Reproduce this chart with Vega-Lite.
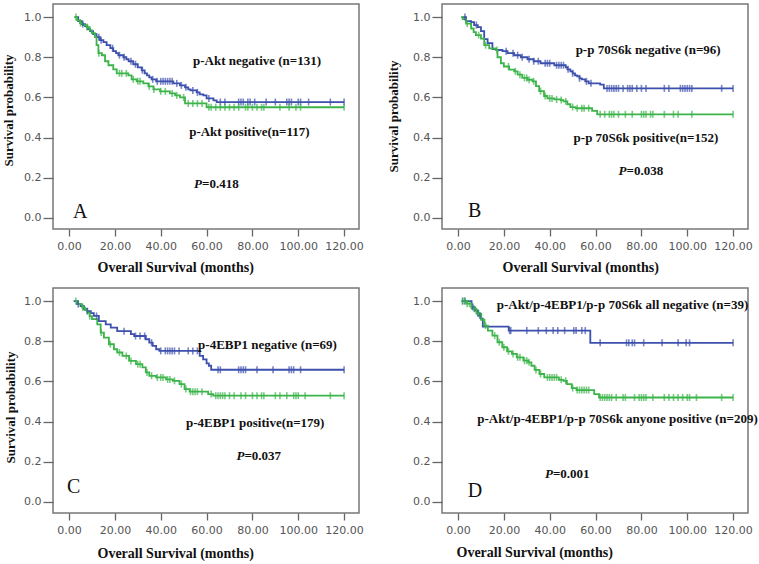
{
"$schema":"https://vega.github.io/schema/vega-lite/v6.json",
"padding":{"left":1,"top":3,"right":0,"bottom":0},
"background":"white",
"bounds":"flush",
"columns":2,
"spacing":{"row":59,"column":83},
"config":{
 "view":{"stroke":"#777","strokeWidth":1.5},
 "axis":{"domain":false,"grid":false,"tickColor":"#666","tickWidth":1.3,"labelColor":"#555","labelFont":"DejaVu Sans","labelFontSize":11,"titleFont":"Liberation Serif","titleFontWeight":"bold","titleFontSize":13,"titleColor":"#111"},
 "axisX":{"tickSize":7,"labelPadding":4,"titleAlign":"left","titleBaseline":"middle","titleFontSize":14},
 "axisY":{"tickSize":10,"labelPadding":2,"titleAlign":"center","titleBaseline":"middle","titleAngle":-90}
},
"datasets":{
"curves":[
{"p":"A","g":"n","t":2.6,"s":1},{"p":"A","g":"n","t":4,"s":0.98},{"p":"A","g":"n","t":5.5,"s":0.965},{"p":"A","g":"n","t":7,"s":0.955},{"p":"A","g":"n","t":8,"s":0.94},{"p":"A","g":"n","t":9.2,"s":0.93},{"p":"A","g":"n","t":10.5,"s":0.915},{"p":"A","g":"n","t":12,"s":0.9},{"p":"A","g":"n","t":13.5,"s":0.885},{"p":"A","g":"n","t":15,"s":0.875},{"p":"A","g":"n","t":16.4,"s":0.86},{"p":"A","g":"n","t":18,"s":0.845},{"p":"A","g":"n","t":19.3,"s":0.83},{"p":"A","g":"n","t":20.5,"s":0.82},{"p":"A","g":"n","t":21.5,"s":0.81},{"p":"A","g":"n","t":23.7,"s":0.8},{"p":"A","g":"n","t":25,"s":0.79},{"p":"A","g":"n","t":26,"s":0.78},{"p":"A","g":"n","t":28,"s":0.765},{"p":"A","g":"n","t":30,"s":0.75},{"p":"A","g":"n","t":31.7,"s":0.735},{"p":"A","g":"n","t":33,"s":0.72},{"p":"A","g":"n","t":34,"s":0.71},{"p":"A","g":"n","t":35,"s":0.7},{"p":"A","g":"n","t":36,"s":0.69},{"p":"A","g":"n","t":38,"s":0.68},{"p":"A","g":"n","t":45.5,"s":0.67},{"p":"A","g":"n","t":48.4,"s":0.66},{"p":"A","g":"n","t":50.6,"s":0.65},{"p":"A","g":"n","t":52,"s":0.64},{"p":"A","g":"n","t":53,"s":0.635},{"p":"A","g":"n","t":55.7,"s":0.625},{"p":"A","g":"n","t":57,"s":0.615},{"p":"A","g":"n","t":58.6,"s":0.61},{"p":"A","g":"n","t":60,"s":0.595},{"p":"A","g":"n","t":63,"s":0.585},{"p":"A","g":"n","t":64.4,"s":0.577},{"p":"A","g":"n","t":120,"s":0.577},
{"p":"A","g":"p","t":2.2,"s":1},{"p":"A","g":"p","t":3.5,"s":0.985},{"p":"A","g":"p","t":4.8,"s":0.97},{"p":"A","g":"p","t":6,"s":0.96},{"p":"A","g":"p","t":7.7,"s":0.95},{"p":"A","g":"p","t":9,"s":0.935},{"p":"A","g":"p","t":9.9,"s":0.92},{"p":"A","g":"p","t":11.3,"s":0.9},{"p":"A","g":"p","t":12,"s":0.86},{"p":"A","g":"p","t":12.8,"s":0.82},{"p":"A","g":"p","t":14.3,"s":0.81},{"p":"A","g":"p","t":15.7,"s":0.78},{"p":"A","g":"p","t":17.2,"s":0.76},{"p":"A","g":"p","t":19.3,"s":0.74},{"p":"A","g":"p","t":20.8,"s":0.72},{"p":"A","g":"p","t":25.9,"s":0.71},{"p":"A","g":"p","t":27.3,"s":0.69},{"p":"A","g":"p","t":29.5,"s":0.68},{"p":"A","g":"p","t":32.4,"s":0.67},{"p":"A","g":"p","t":34.6,"s":0.655},{"p":"A","g":"p","t":36.8,"s":0.64},{"p":"A","g":"p","t":39.7,"s":0.63},{"p":"A","g":"p","t":44,"s":0.62},{"p":"A","g":"p","t":46.3,"s":0.61},{"p":"A","g":"p","t":48.4,"s":0.6},{"p":"A","g":"p","t":50.6,"s":0.57},{"p":"A","g":"p","t":60,"s":0.551},{"p":"A","g":"p","t":120,"s":0.551},
{"p":"B","g":"n","t":2,"s":1},{"p":"B","g":"n","t":3.5,"s":0.98},{"p":"B","g":"n","t":5.7,"s":0.975},{"p":"B","g":"n","t":7,"s":0.96},{"p":"B","g":"n","t":8.6,"s":0.95},{"p":"B","g":"n","t":10,"s":0.93},{"p":"B","g":"n","t":11.4,"s":0.89},{"p":"B","g":"n","t":12.9,"s":0.87},{"p":"B","g":"n","t":15,"s":0.84},{"p":"B","g":"n","t":16.5,"s":0.836},{"p":"B","g":"n","t":19.4,"s":0.83},{"p":"B","g":"n","t":21.6,"s":0.82},{"p":"B","g":"n","t":24.5,"s":0.81},{"p":"B","g":"n","t":27.4,"s":0.8},{"p":"B","g":"n","t":30.3,"s":0.79},{"p":"B","g":"n","t":33,"s":0.78},{"p":"B","g":"n","t":36,"s":0.77},{"p":"B","g":"n","t":42,"s":0.76},{"p":"B","g":"n","t":47,"s":0.75},{"p":"B","g":"n","t":47.7,"s":0.74},{"p":"B","g":"n","t":49,"s":0.73},{"p":"B","g":"n","t":50,"s":0.72},{"p":"B","g":"n","t":51,"s":0.71},{"p":"B","g":"n","t":52,"s":0.705},{"p":"B","g":"n","t":53,"s":0.695},{"p":"B","g":"n","t":54,"s":0.69},{"p":"B","g":"n","t":55.5,"s":0.68},{"p":"B","g":"n","t":57,"s":0.67},{"p":"B","g":"n","t":62,"s":0.664},{"p":"B","g":"n","t":63.6,"s":0.645},{"p":"B","g":"n","t":120,"s":0.645},
{"p":"B","g":"p","t":1.3,"s":1},{"p":"B","g":"p","t":2,"s":0.99},{"p":"B","g":"p","t":3.5,"s":0.967},{"p":"B","g":"p","t":5.7,"s":0.943},{"p":"B","g":"p","t":6.8,"s":0.925},{"p":"B","g":"p","t":7.8,"s":0.91},{"p":"B","g":"p","t":10,"s":0.893},{"p":"B","g":"p","t":11.4,"s":0.86},{"p":"B","g":"p","t":13.6,"s":0.844},{"p":"B","g":"p","t":16.5,"s":0.836},{"p":"B","g":"p","t":17.2,"s":0.8},{"p":"B","g":"p","t":18.7,"s":0.77},{"p":"B","g":"p","t":20,"s":0.754},{"p":"B","g":"p","t":22.3,"s":0.738},{"p":"B","g":"p","t":24.5,"s":0.73},{"p":"B","g":"p","t":26,"s":0.713},{"p":"B","g":"p","t":28,"s":0.697},{"p":"B","g":"p","t":30.3,"s":0.688},{"p":"B","g":"p","t":32.5,"s":0.68},{"p":"B","g":"p","t":34,"s":0.656},{"p":"B","g":"p","t":35.4,"s":0.631},{"p":"B","g":"p","t":37.5,"s":0.607},{"p":"B","g":"p","t":39,"s":0.595},{"p":"B","g":"p","t":42,"s":0.59},{"p":"B","g":"p","t":44.8,"s":0.587},{"p":"B","g":"p","t":46,"s":0.58},{"p":"B","g":"p","t":47.7,"s":0.566},{"p":"B","g":"p","t":49,"s":0.552},{"p":"B","g":"p","t":51.3,"s":0.546},{"p":"B","g":"p","t":58.5,"s":0.533},{"p":"B","g":"p","t":60.7,"s":0.516},{"p":"B","g":"p","t":120,"s":0.516},
{"p":"C","g":"n","t":2,"s":1},{"p":"C","g":"n","t":3.5,"s":0.985},{"p":"C","g":"n","t":5,"s":0.975},{"p":"C","g":"n","t":6.5,"s":0.96},{"p":"C","g":"n","t":7.9,"s":0.95},{"p":"C","g":"n","t":9.5,"s":0.94},{"p":"C","g":"n","t":10.8,"s":0.926},{"p":"C","g":"n","t":13,"s":0.9},{"p":"C","g":"n","t":16,"s":0.884},{"p":"C","g":"n","t":18.2,"s":0.868},{"p":"C","g":"n","t":21,"s":0.85},{"p":"C","g":"n","t":27,"s":0.835},{"p":"C","g":"n","t":28.4,"s":0.826},{"p":"C","g":"n","t":33.5,"s":0.81},{"p":"C","g":"n","t":35,"s":0.793},{"p":"C","g":"n","t":36.5,"s":0.777},{"p":"C","g":"n","t":38,"s":0.76},{"p":"C","g":"n","t":39.4,"s":0.752},{"p":"C","g":"n","t":57,"s":0.727},{"p":"C","g":"n","t":58.5,"s":0.71},{"p":"C","g":"n","t":60,"s":0.69},{"p":"C","g":"n","t":61,"s":0.678},{"p":"C","g":"n","t":62,"s":0.658},{"p":"C","g":"n","t":120,"s":0.658},
{"p":"C","g":"p","t":2.8,"s":1},{"p":"C","g":"p","t":4,"s":0.985},{"p":"C","g":"p","t":5.7,"s":0.967},{"p":"C","g":"p","t":7,"s":0.955},{"p":"C","g":"p","t":7.9,"s":0.942},{"p":"C","g":"p","t":9,"s":0.925},{"p":"C","g":"p","t":10,"s":0.91},{"p":"C","g":"p","t":12.3,"s":0.884},{"p":"C","g":"p","t":13.8,"s":0.843},{"p":"C","g":"p","t":15.2,"s":0.818},{"p":"C","g":"p","t":17.4,"s":0.785},{"p":"C","g":"p","t":19.6,"s":0.76},{"p":"C","g":"p","t":21,"s":0.744},{"p":"C","g":"p","t":23.3,"s":0.727},{"p":"C","g":"p","t":26.2,"s":0.702},{"p":"C","g":"p","t":29.2,"s":0.686},{"p":"C","g":"p","t":32,"s":0.67},{"p":"C","g":"p","t":33.5,"s":0.645},{"p":"C","g":"p","t":35,"s":0.628},{"p":"C","g":"p","t":38,"s":0.62},{"p":"C","g":"p","t":42.3,"s":0.61},{"p":"C","g":"p","t":45.3,"s":0.603},{"p":"C","g":"p","t":48.2,"s":0.587},{"p":"C","g":"p","t":50.4,"s":0.562},{"p":"C","g":"p","t":52.6,"s":0.549},{"p":"C","g":"p","t":60.7,"s":0.537},{"p":"C","g":"p","t":62.9,"s":0.529},{"p":"C","g":"p","t":120,"s":0.529},
{"p":"D","g":"n","t":1.7,"s":1},{"p":"D","g":"n","t":5.9,"s":0.97},{"p":"D","g":"n","t":7.3,"s":0.953},{"p":"D","g":"n","t":8.7,"s":0.928},{"p":"D","g":"n","t":10.1,"s":0.912},{"p":"D","g":"n","t":10.8,"s":0.873},{"p":"D","g":"n","t":22.1,"s":0.853},{"p":"D","g":"n","t":57.7,"s":0.792},{"p":"D","g":"n","t":120,"s":0.792},
{"p":"D","g":"p","t":1.4,"s":1},{"p":"D","g":"p","t":3.8,"s":0.987},{"p":"D","g":"p","t":5.9,"s":0.962},{"p":"D","g":"p","t":8,"s":0.937},{"p":"D","g":"p","t":10.1,"s":0.907},{"p":"D","g":"p","t":11.5,"s":0.878},{"p":"D","g":"p","t":13,"s":0.853},{"p":"D","g":"p","t":15,"s":0.828},{"p":"D","g":"p","t":17.2,"s":0.795},{"p":"D","g":"p","t":19.3,"s":0.77},{"p":"D","g":"p","t":21.4,"s":0.75},{"p":"D","g":"p","t":23.5,"s":0.737},{"p":"D","g":"p","t":25.6,"s":0.72},{"p":"D","g":"p","t":28.5,"s":0.703},{"p":"D","g":"p","t":30.6,"s":0.695},{"p":"D","g":"p","t":32,"s":0.678},{"p":"D","g":"p","t":33.4,"s":0.657},{"p":"D","g":"p","t":35.5,"s":0.637},{"p":"D","g":"p","t":37.6,"s":0.62},{"p":"D","g":"p","t":44,"s":0.608},{"p":"D","g":"p","t":46,"s":0.603},{"p":"D","g":"p","t":47.5,"s":0.587},{"p":"D","g":"p","t":49.6,"s":0.567},{"p":"D","g":"p","t":51.7,"s":0.557},{"p":"D","g":"p","t":59.4,"s":0.537},{"p":"D","g":"p","t":61.5,"s":0.52},{"p":"D","g":"p","t":120,"s":0.52}
],
"cens":[
{"p":"A","g":"n","t":6,"s":0.965},{"p":"A","g":"n","t":13,"s":0.9},{"p":"A","g":"n","t":14,"s":0.885},{"p":"A","g":"n","t":19,"s":0.845},{"p":"A","g":"n","t":22,"s":0.81},{"p":"A","g":"n","t":24,"s":0.8},{"p":"A","g":"n","t":27,"s":0.78},{"p":"A","g":"n","t":29,"s":0.765},{"p":"A","g":"n","t":32,"s":0.735},{"p":"A","g":"n","t":36.5,"s":0.69},{"p":"A","g":"n","t":38.5,"s":0.68},{"p":"A","g":"n","t":40,"s":0.68},{"p":"A","g":"n","t":41,"s":0.68},{"p":"A","g":"n","t":42,"s":0.68},{"p":"A","g":"n","t":43,"s":0.68},{"p":"A","g":"n","t":44,"s":0.68},{"p":"A","g":"n","t":45,"s":0.68},{"p":"A","g":"n","t":47,"s":0.67},{"p":"A","g":"n","t":49,"s":0.66},{"p":"A","g":"n","t":51,"s":0.65},{"p":"A","g":"n","t":54,"s":0.635},{"p":"A","g":"n","t":56,"s":0.625},{"p":"A","g":"n","t":61,"s":0.595},{"p":"A","g":"n","t":66,"s":0.577},{"p":"A","g":"n","t":68,"s":0.577},{"p":"A","g":"n","t":74,"s":0.577},{"p":"A","g":"n","t":75,"s":0.577},{"p":"A","g":"n","t":76,"s":0.577},{"p":"A","g":"n","t":78,"s":0.577},{"p":"A","g":"n","t":79,"s":0.577},{"p":"A","g":"n","t":81,"s":0.577},{"p":"A","g":"n","t":86,"s":0.577},{"p":"A","g":"n","t":90,"s":0.577},{"p":"A","g":"n","t":95,"s":0.577},{"p":"A","g":"n","t":96,"s":0.577},{"p":"A","g":"n","t":97,"s":0.577},{"p":"A","g":"n","t":100,"s":0.577},{"p":"A","g":"n","t":101,"s":0.577},{"p":"A","g":"n","t":104.5,"s":0.577},{"p":"A","g":"n","t":114,"s":0.577},{"p":"A","g":"n","t":120,"s":0.577},
{"p":"A","g":"p","t":3,"s":1},{"p":"A","g":"p","t":5,"s":0.97},{"p":"A","g":"p","t":8,"s":0.95},{"p":"A","g":"p","t":13,"s":0.82},{"p":"A","g":"p","t":22,"s":0.72},{"p":"A","g":"p","t":23,"s":0.72},{"p":"A","g":"p","t":25,"s":0.72},{"p":"A","g":"p","t":28,"s":0.69},{"p":"A","g":"p","t":30,"s":0.68},{"p":"A","g":"p","t":31,"s":0.68},{"p":"A","g":"p","t":35,"s":0.655},{"p":"A","g":"p","t":37,"s":0.64},{"p":"A","g":"p","t":40,"s":0.63},{"p":"A","g":"p","t":42,"s":0.63},{"p":"A","g":"p","t":45,"s":0.62},{"p":"A","g":"p","t":47,"s":0.61},{"p":"A","g":"p","t":50,"s":0.6},{"p":"A","g":"p","t":52,"s":0.57},{"p":"A","g":"p","t":54,"s":0.57},{"p":"A","g":"p","t":56,"s":0.57},{"p":"A","g":"p","t":58,"s":0.57},{"p":"A","g":"p","t":61,"s":0.551},{"p":"A","g":"p","t":62,"s":0.551},{"p":"A","g":"p","t":64,"s":0.551},{"p":"A","g":"p","t":66,"s":0.551},{"p":"A","g":"p","t":68,"s":0.551},{"p":"A","g":"p","t":70,"s":0.551},{"p":"A","g":"p","t":72,"s":0.551},{"p":"A","g":"p","t":74,"s":0.551},{"p":"A","g":"p","t":77,"s":0.551},{"p":"A","g":"p","t":78,"s":0.551},{"p":"A","g":"p","t":80,"s":0.551},{"p":"A","g":"p","t":82,"s":0.551},{"p":"A","g":"p","t":84,"s":0.551},{"p":"A","g":"p","t":85,"s":0.551},{"p":"A","g":"p","t":92,"s":0.551},{"p":"A","g":"p","t":96,"s":0.551},{"p":"A","g":"p","t":99,"s":0.551},{"p":"A","g":"p","t":101,"s":0.551},{"p":"A","g":"p","t":120,"s":0.551},
{"p":"B","g":"n","t":3,"s":1},{"p":"B","g":"n","t":8,"s":0.96},{"p":"B","g":"n","t":21,"s":0.83},{"p":"B","g":"n","t":24,"s":0.82},{"p":"B","g":"n","t":26,"s":0.81},{"p":"B","g":"n","t":28,"s":0.8},{"p":"B","g":"n","t":31,"s":0.79},{"p":"B","g":"n","t":33,"s":0.78},{"p":"B","g":"n","t":35,"s":0.78},{"p":"B","g":"n","t":38,"s":0.77},{"p":"B","g":"n","t":39,"s":0.77},{"p":"B","g":"n","t":40,"s":0.77},{"p":"B","g":"n","t":43,"s":0.76},{"p":"B","g":"n","t":44,"s":0.76},{"p":"B","g":"n","t":45,"s":0.76},{"p":"B","g":"n","t":46,"s":0.76},{"p":"B","g":"n","t":48,"s":0.74},{"p":"B","g":"n","t":50,"s":0.72},{"p":"B","g":"n","t":53,"s":0.695},{"p":"B","g":"n","t":56,"s":0.68},{"p":"B","g":"n","t":58,"s":0.67},{"p":"B","g":"n","t":65,"s":0.645},{"p":"B","g":"n","t":66,"s":0.645},{"p":"B","g":"n","t":67,"s":0.645},{"p":"B","g":"n","t":68,"s":0.645},{"p":"B","g":"n","t":69,"s":0.645},{"p":"B","g":"n","t":70,"s":0.645},{"p":"B","g":"n","t":72,"s":0.645},{"p":"B","g":"n","t":74,"s":0.645},{"p":"B","g":"n","t":75,"s":0.645},{"p":"B","g":"n","t":76,"s":0.645},{"p":"B","g":"n","t":78,"s":0.645},{"p":"B","g":"n","t":80,"s":0.645},{"p":"B","g":"n","t":82,"s":0.645},{"p":"B","g":"n","t":90,"s":0.645},{"p":"B","g":"n","t":92,"s":0.645},{"p":"B","g":"n","t":97,"s":0.645},{"p":"B","g":"n","t":98,"s":0.645},{"p":"B","g":"n","t":99,"s":0.645},{"p":"B","g":"n","t":100,"s":0.645},{"p":"B","g":"n","t":101,"s":0.645},{"p":"B","g":"n","t":102,"s":0.645},{"p":"B","g":"n","t":115,"s":0.645},{"p":"B","g":"n","t":120,"s":0.645},
{"p":"B","g":"p","t":4,"s":0.967},{"p":"B","g":"p","t":9,"s":0.91},{"p":"B","g":"p","t":12,"s":0.86},{"p":"B","g":"p","t":17,"s":0.836},{"p":"B","g":"p","t":22,"s":0.754},{"p":"B","g":"p","t":25,"s":0.73},{"p":"B","g":"p","t":27,"s":0.713},{"p":"B","g":"p","t":29,"s":0.697},{"p":"B","g":"p","t":30,"s":0.697},{"p":"B","g":"p","t":31,"s":0.688},{"p":"B","g":"p","t":33,"s":0.68},{"p":"B","g":"p","t":36,"s":0.631},{"p":"B","g":"p","t":38,"s":0.607},{"p":"B","g":"p","t":40,"s":0.595},{"p":"B","g":"p","t":41,"s":0.595},{"p":"B","g":"p","t":43,"s":0.59},{"p":"B","g":"p","t":45,"s":0.587},{"p":"B","g":"p","t":47,"s":0.58},{"p":"B","g":"p","t":50,"s":0.552},{"p":"B","g":"p","t":52,"s":0.546},{"p":"B","g":"p","t":54,"s":0.546},{"p":"B","g":"p","t":55,"s":0.546},{"p":"B","g":"p","t":57,"s":0.546},{"p":"B","g":"p","t":62,"s":0.516},{"p":"B","g":"p","t":64,"s":0.516},{"p":"B","g":"p","t":66,"s":0.516},{"p":"B","g":"p","t":67,"s":0.516},{"p":"B","g":"p","t":68,"s":0.516},{"p":"B","g":"p","t":70,"s":0.516},{"p":"B","g":"p","t":73,"s":0.516},{"p":"B","g":"p","t":76,"s":0.516},{"p":"B","g":"p","t":80,"s":0.516},{"p":"B","g":"p","t":81,"s":0.516},{"p":"B","g":"p","t":82,"s":0.516},{"p":"B","g":"p","t":84,"s":0.516},{"p":"B","g":"p","t":85,"s":0.516},{"p":"B","g":"p","t":90,"s":0.516},{"p":"B","g":"p","t":94,"s":0.516},{"p":"B","g":"p","t":96,"s":0.516},{"p":"B","g":"p","t":102,"s":0.516},{"p":"B","g":"p","t":120,"s":0.516},
{"p":"C","g":"n","t":4,"s":0.985},{"p":"C","g":"n","t":8,"s":0.95},{"p":"C","g":"n","t":12,"s":0.926},{"p":"C","g":"n","t":24,"s":0.85},{"p":"C","g":"n","t":29,"s":0.826},{"p":"C","g":"n","t":31,"s":0.826},{"p":"C","g":"n","t":33,"s":0.826},{"p":"C","g":"n","t":36,"s":0.793},{"p":"C","g":"n","t":40,"s":0.752},{"p":"C","g":"n","t":42,"s":0.752},{"p":"C","g":"n","t":43,"s":0.752},{"p":"C","g":"n","t":44,"s":0.752},{"p":"C","g":"n","t":45,"s":0.752},{"p":"C","g":"n","t":46,"s":0.752},{"p":"C","g":"n","t":48,"s":0.752},{"p":"C","g":"n","t":52,"s":0.752},{"p":"C","g":"n","t":54,"s":0.752},{"p":"C","g":"n","t":56,"s":0.752},{"p":"C","g":"n","t":65,"s":0.658},{"p":"C","g":"n","t":66,"s":0.658},{"p":"C","g":"n","t":74,"s":0.658},{"p":"C","g":"n","t":75,"s":0.658},{"p":"C","g":"n","t":76,"s":0.658},{"p":"C","g":"n","t":77,"s":0.658},{"p":"C","g":"n","t":82,"s":0.658},{"p":"C","g":"n","t":89,"s":0.658},{"p":"C","g":"n","t":96,"s":0.658},{"p":"C","g":"n","t":97,"s":0.658},{"p":"C","g":"n","t":98,"s":0.658},{"p":"C","g":"n","t":101,"s":0.658},{"p":"C","g":"n","t":120,"s":0.658},
{"p":"C","g":"p","t":3,"s":1},{"p":"C","g":"p","t":6,"s":0.967},{"p":"C","g":"p","t":9,"s":0.925},{"p":"C","g":"p","t":14,"s":0.843},{"p":"C","g":"p","t":18,"s":0.785},{"p":"C","g":"p","t":22,"s":0.744},{"p":"C","g":"p","t":25,"s":0.727},{"p":"C","g":"p","t":27,"s":0.702},{"p":"C","g":"p","t":30,"s":0.686},{"p":"C","g":"p","t":31,"s":0.686},{"p":"C","g":"p","t":34,"s":0.645},{"p":"C","g":"p","t":36,"s":0.628},{"p":"C","g":"p","t":38.5,"s":0.62},{"p":"C","g":"p","t":40,"s":0.62},{"p":"C","g":"p","t":41,"s":0.62},{"p":"C","g":"p","t":43,"s":0.61},{"p":"C","g":"p","t":44,"s":0.61},{"p":"C","g":"p","t":46,"s":0.603},{"p":"C","g":"p","t":49,"s":0.587},{"p":"C","g":"p","t":51,"s":0.562},{"p":"C","g":"p","t":53,"s":0.549},{"p":"C","g":"p","t":54,"s":0.549},{"p":"C","g":"p","t":55,"s":0.549},{"p":"C","g":"p","t":56,"s":0.549},{"p":"C","g":"p","t":58,"s":0.549},{"p":"C","g":"p","t":62,"s":0.537},{"p":"C","g":"p","t":64,"s":0.529},{"p":"C","g":"p","t":65,"s":0.529},{"p":"C","g":"p","t":66,"s":0.529},{"p":"C","g":"p","t":67,"s":0.529},{"p":"C","g":"p","t":68,"s":0.529},{"p":"C","g":"p","t":70,"s":0.529},{"p":"C","g":"p","t":72,"s":0.529},{"p":"C","g":"p","t":75,"s":0.529},{"p":"C","g":"p","t":77,"s":0.529},{"p":"C","g":"p","t":80,"s":0.529},{"p":"C","g":"p","t":82,"s":0.529},{"p":"C","g":"p","t":84,"s":0.529},{"p":"C","g":"p","t":85,"s":0.529},{"p":"C","g":"p","t":90,"s":0.529},{"p":"C","g":"p","t":92,"s":0.529},{"p":"C","g":"p","t":95,"s":0.529},{"p":"C","g":"p","t":98,"s":0.529},{"p":"C","g":"p","t":99,"s":0.529},{"p":"C","g":"p","t":100,"s":0.529},{"p":"C","g":"p","t":103,"s":0.529},{"p":"C","g":"p","t":114,"s":0.529},{"p":"C","g":"p","t":120,"s":0.529},
{"p":"D","g":"n","t":2,"s":1},{"p":"D","g":"n","t":3,"s":1},{"p":"D","g":"n","t":6.5,"s":0.97},{"p":"D","g":"n","t":9.5,"s":0.928},{"p":"D","g":"n","t":22.5,"s":0.853},{"p":"D","g":"n","t":23,"s":0.853},{"p":"D","g":"n","t":30,"s":0.853},{"p":"D","g":"n","t":35,"s":0.853},{"p":"D","g":"n","t":38.5,"s":0.853},{"p":"D","g":"n","t":41.5,"s":0.853},{"p":"D","g":"n","t":43.5,"s":0.853},{"p":"D","g":"n","t":46.5,"s":0.853},{"p":"D","g":"n","t":50.5,"s":0.853},{"p":"D","g":"n","t":51.5,"s":0.853},{"p":"D","g":"n","t":54,"s":0.853},{"p":"D","g":"n","t":55.5,"s":0.853},{"p":"D","g":"n","t":62,"s":0.792},{"p":"D","g":"n","t":73.5,"s":0.792},{"p":"D","g":"n","t":74.5,"s":0.792},{"p":"D","g":"n","t":76,"s":0.792},{"p":"D","g":"n","t":77,"s":0.792},{"p":"D","g":"n","t":81,"s":0.792},{"p":"D","g":"n","t":89,"s":0.792},{"p":"D","g":"n","t":96,"s":0.792},{"p":"D","g":"n","t":99.5,"s":0.792},{"p":"D","g":"n","t":101,"s":0.792},{"p":"D","g":"n","t":120,"s":0.792},
{"p":"D","g":"p","t":2,"s":1},{"p":"D","g":"p","t":3,"s":1},{"p":"D","g":"p","t":4,"s":0.987},{"p":"D","g":"p","t":5,"s":0.987},{"p":"D","g":"p","t":7,"s":0.962},{"p":"D","g":"p","t":9,"s":0.937},{"p":"D","g":"p","t":12,"s":0.878},{"p":"D","g":"p","t":16,"s":0.828},{"p":"D","g":"p","t":18,"s":0.795},{"p":"D","g":"p","t":20,"s":0.77},{"p":"D","g":"p","t":22,"s":0.75},{"p":"D","g":"p","t":24,"s":0.737},{"p":"D","g":"p","t":26,"s":0.72},{"p":"D","g":"p","t":27,"s":0.72},{"p":"D","g":"p","t":29,"s":0.703},{"p":"D","g":"p","t":30,"s":0.703},{"p":"D","g":"p","t":31,"s":0.695},{"p":"D","g":"p","t":34,"s":0.657},{"p":"D","g":"p","t":36,"s":0.637},{"p":"D","g":"p","t":39,"s":0.62},{"p":"D","g":"p","t":40,"s":0.62},{"p":"D","g":"p","t":41,"s":0.62},{"p":"D","g":"p","t":42,"s":0.62},{"p":"D","g":"p","t":43,"s":0.62},{"p":"D","g":"p","t":45,"s":0.608},{"p":"D","g":"p","t":47,"s":0.603},{"p":"D","g":"p","t":50,"s":0.567},{"p":"D","g":"p","t":52,"s":0.557},{"p":"D","g":"p","t":53,"s":0.557},{"p":"D","g":"p","t":54,"s":0.557},{"p":"D","g":"p","t":55,"s":0.557},{"p":"D","g":"p","t":56,"s":0.557},{"p":"D","g":"p","t":57,"s":0.557},{"p":"D","g":"p","t":62,"s":0.52},{"p":"D","g":"p","t":63,"s":0.52},{"p":"D","g":"p","t":64,"s":0.52},{"p":"D","g":"p","t":65,"s":0.52},{"p":"D","g":"p","t":66,"s":0.52},{"p":"D","g":"p","t":67,"s":0.52},{"p":"D","g":"p","t":69,"s":0.52},{"p":"D","g":"p","t":72,"s":0.52},{"p":"D","g":"p","t":73,"s":0.52},{"p":"D","g":"p","t":77,"s":0.52},{"p":"D","g":"p","t":79,"s":0.52},{"p":"D","g":"p","t":80,"s":0.52},{"p":"D","g":"p","t":81,"s":0.52},{"p":"D","g":"p","t":82,"s":0.52},{"p":"D","g":"p","t":85,"s":0.52},{"p":"D","g":"p","t":90,"s":0.52},{"p":"D","g":"p","t":92,"s":0.52},{"p":"D","g":"p","t":94,"s":0.52},{"p":"D","g":"p","t":96,"s":0.52},{"p":"D","g":"p","t":98,"s":0.52},{"p":"D","g":"p","t":100,"s":0.52},{"p":"D","g":"p","t":101,"s":0.52},{"p":"D","g":"p","t":104,"s":0.52},{"p":"D","g":"p","t":115,"s":0.52},{"p":"D","g":"p","t":120,"s":0.52}
],
"notes":[
{"p":"A","txt":"p-Akt  negative (n=131)","t":54.1,"s":0.779},
{"p":"A","txt":"p-Akt  positive(n=117)","t":52.4,"s":0.427},
{"p":"B","txt":"p-p 70S6k  negative (n=96)","t":51.3,"s":0.837},
{"p":"B","txt":"p-p 70S6k  positive(n=152)","t":50.4,"s":0.396},
{"p":"C","txt":"p-4EBP1 negative (n=69)","t":56.3,"s":0.78},
{"p":"C","txt":"p-4EBP1  positive(n=179)","t":51,"s":0.393},
{"p":"D","txt":"p-Akt/p-4EBP1/p-p 70S6k   all negative (n=39)","t":16.9,"s":0.98},
{"p":"D","txt":"p-Akt/p-4EBP1/p-p 70S6k  anyone positive (n=209)","t":8.4,"s":0.415}
],
"pvals":[
{"p":"A","v":"=0.418","t":58,"s":0.171},
{"p":"B","v":"=0.038","t":73.5,"s":0.233},
{"p":"C","v":"=0.037","t":76.5,"s":0.229},
{"p":"D","v":"=0.001","t":41.4,"s":0.14}
],
"letters":[
{"p":"A","L":"A","t":1.7,"s":0.03},
{"p":"B","L":"B","t":4.3,"s":0.035},
{"p":"C","L":"C","t":-0.9,"s":0.075},
{"p":"D","L":"D","t":4.2,"s":0.055}
]
},
"concat":[
{"width":306,"height":225,
 "encoding":{
  "x":{"field":"t","type":"quantitative","scale":{"domain":[-7,126.5],"nice":false,"zero":false},"axis":{"values":[0,20,40,60,80,100,120],"format":".2f","title":"Overall Survival (months)","titleX":44,"titleY":38}},
  "y":{"field":"s","type":"quantitative","scale":{"domain":[-0.055,1.065],"nice":false,"zero":false},"axis":{"values":[0,0.2,0.4,0.6,0.8,1],"format":".1f","title":"Survival probability","titleX":-45,"titleY":106}}},
 "layer":[
  {"data":{"name":"curves"},"transform":[{"filter":"datum.p==='A'"}],"mark":{"type":"line","interpolate":"step-after","strokeWidth":1.8},"encoding":{"color":{"field":"g","type":"nominal","scale":{"domain":["n","p"],"range":["#3d50ad","#3cb44a"]},"legend":null}}},
  {"data":{"name":"cens"},"transform":[{"filter":"datum.p==='A'"}],"mark":{"type":"tick","orient":"vertical","size":7,"thickness":1.6},"encoding":{"color":{"field":"g","type":"nominal","scale":{"domain":["n","p"],"range":["#3d50ad","#3cb44a"]},"legend":null}}},
  {"data":{"name":"notes"},"transform":[{"filter":"datum.p==='A'"}],"mark":{"type":"text","align":"left","baseline":"middle","font":"Liberation Serif","fontWeight":"bold","fontSize":13,"color":"#111"},"encoding":{"text":{"field":"txt"}}},
  {"data":{"name":"pvals"},"transform":[{"filter":"datum.p==='A'"}],"mark":{"type":"text","align":"right","baseline":"middle","font":"Liberation Serif","fontWeight":"bold","fontStyle":"italic","fontSize":13,"color":"#111"},"encoding":{"text":{"value":"P"}}},
  {"data":{"name":"pvals"},"transform":[{"filter":"datum.p==='A'"}],"mark":{"type":"text","align":"left","baseline":"middle","font":"Liberation Serif","fontWeight":"bold","fontSize":13,"color":"#111"},"encoding":{"text":{"field":"v"}}},
  {"data":{"name":"letters"},"transform":[{"filter":"datum.p==='A'"}],"mark":{"type":"text","align":"left","baseline":"middle","font":"Liberation Serif","fontSize":20,"color":"#111"},"encoding":{"text":{"field":"L"}}}
 ]},
{"width":306,"height":225,
 "encoding":{
  "x":{"field":"t","type":"quantitative","scale":{"domain":[-7,126.5],"nice":false,"zero":false},"axis":{"values":[0,20,40,60,80,100,120],"format":".2f","title":"Overall Survival (months)","titleX":60,"titleY":38}},
  "y":{"field":"s","type":"quantitative","scale":{"domain":[-0.055,1.065],"nice":false,"zero":false},"axis":{"values":[0,0.2,0.4,0.6,0.8,1],"format":".1f","title":"Survival probability","titleX":-49,"titleY":112}}},
 "layer":[
  {"data":{"name":"curves"},"transform":[{"filter":"datum.p==='B'"}],"mark":{"type":"line","interpolate":"step-after","strokeWidth":1.8},"encoding":{"color":{"field":"g","type":"nominal","scale":{"domain":["n","p"],"range":["#3d50ad","#3cb44a"]},"legend":null}}},
  {"data":{"name":"cens"},"transform":[{"filter":"datum.p==='B'"}],"mark":{"type":"tick","orient":"vertical","size":7,"thickness":1.6},"encoding":{"color":{"field":"g","type":"nominal","scale":{"domain":["n","p"],"range":["#3d50ad","#3cb44a"]},"legend":null}}},
  {"data":{"name":"notes"},"transform":[{"filter":"datum.p==='B'"}],"mark":{"type":"text","align":"left","baseline":"middle","font":"Liberation Serif","fontWeight":"bold","fontSize":13,"color":"#111"},"encoding":{"text":{"field":"txt"}}},
  {"data":{"name":"pvals"},"transform":[{"filter":"datum.p==='B'"}],"mark":{"type":"text","align":"right","baseline":"middle","font":"Liberation Serif","fontWeight":"bold","fontStyle":"italic","fontSize":13,"color":"#111"},"encoding":{"text":{"value":"P"}}},
  {"data":{"name":"pvals"},"transform":[{"filter":"datum.p==='B'"}],"mark":{"type":"text","align":"left","baseline":"middle","font":"Liberation Serif","fontWeight":"bold","fontSize":13,"color":"#111"},"encoding":{"text":{"field":"v"}}},
  {"data":{"name":"letters"},"transform":[{"filter":"datum.p==='B'"}],"mark":{"type":"text","align":"left","baseline":"middle","font":"Liberation Serif","fontSize":20,"color":"#111"},"encoding":{"text":{"field":"L"}}}
 ]},
{"width":306,"height":225,
 "encoding":{
  "x":{"field":"t","type":"quantitative","scale":{"domain":[-7,126.5],"nice":false,"zero":false},"axis":{"values":[0,20,40,60,80,100,120],"format":".2f","title":"Overall Survival (months)","titleX":44,"titleY":40}},
  "y":{"field":"s","type":"quantitative","scale":{"domain":[-0.055,1.065],"nice":false,"zero":false},"axis":{"values":[0,0.2,0.4,0.6,0.8,1],"format":".1f","title":"Survival probability","titleX":-43,"titleY":119}}},
 "layer":[
  {"data":{"name":"curves"},"transform":[{"filter":"datum.p==='C'"}],"mark":{"type":"line","interpolate":"step-after","strokeWidth":1.8},"encoding":{"color":{"field":"g","type":"nominal","scale":{"domain":["n","p"],"range":["#3d50ad","#3cb44a"]},"legend":null}}},
  {"data":{"name":"cens"},"transform":[{"filter":"datum.p==='C'"}],"mark":{"type":"tick","orient":"vertical","size":7,"thickness":1.6},"encoding":{"color":{"field":"g","type":"nominal","scale":{"domain":["n","p"],"range":["#3d50ad","#3cb44a"]},"legend":null}}},
  {"data":{"name":"notes"},"transform":[{"filter":"datum.p==='C'"}],"mark":{"type":"text","align":"left","baseline":"middle","font":"Liberation Serif","fontWeight":"bold","fontSize":13,"color":"#111"},"encoding":{"text":{"field":"txt"}}},
  {"data":{"name":"pvals"},"transform":[{"filter":"datum.p==='C'"}],"mark":{"type":"text","align":"right","baseline":"middle","font":"Liberation Serif","fontWeight":"bold","fontStyle":"italic","fontSize":13,"color":"#111"},"encoding":{"text":{"value":"P"}}},
  {"data":{"name":"pvals"},"transform":[{"filter":"datum.p==='C'"}],"mark":{"type":"text","align":"left","baseline":"middle","font":"Liberation Serif","fontWeight":"bold","fontSize":13,"color":"#111"},"encoding":{"text":{"field":"v"}}},
  {"data":{"name":"letters"},"transform":[{"filter":"datum.p==='C'"}],"mark":{"type":"text","align":"left","baseline":"middle","font":"Liberation Serif","fontSize":20,"color":"#111"},"encoding":{"text":{"field":"L"}}}
 ]},
{"width":306,"height":225,
 "encoding":{
  "x":{"field":"t","type":"quantitative","scale":{"domain":[-7,126.5],"nice":false,"zero":false},"axis":{"values":[0,20,40,60,80,100,120],"format":".2f","title":"Overall Survival (months)","titleX":14,"titleY":39}},
  "y":{"field":"s","type":"quantitative","scale":{"domain":[-0.055,1.065],"nice":false,"zero":false},"axis":{"values":[0,0.2,0.4,0.6,0.8,1],"format":".1f","title":null}}},
 "layer":[
  {"data":{"name":"curves"},"transform":[{"filter":"datum.p==='D'"}],"mark":{"type":"line","interpolate":"step-after","strokeWidth":1.8},"encoding":{"color":{"field":"g","type":"nominal","scale":{"domain":["n","p"],"range":["#3d50ad","#3cb44a"]},"legend":null}}},
  {"data":{"name":"cens"},"transform":[{"filter":"datum.p==='D'"}],"mark":{"type":"tick","orient":"vertical","size":7,"thickness":1.6},"encoding":{"color":{"field":"g","type":"nominal","scale":{"domain":["n","p"],"range":["#3d50ad","#3cb44a"]},"legend":null}}},
  {"data":{"name":"notes"},"transform":[{"filter":"datum.p==='D'"}],"mark":{"type":"text","align":"left","baseline":"middle","font":"Liberation Serif","fontWeight":"bold","fontSize":13,"color":"#111"},"encoding":{"text":{"field":"txt"}}},
  {"data":{"name":"pvals"},"transform":[{"filter":"datum.p==='D'"}],"mark":{"type":"text","align":"right","baseline":"middle","font":"Liberation Serif","fontWeight":"bold","fontStyle":"italic","fontSize":13,"color":"#111"},"encoding":{"text":{"value":"P"}}},
  {"data":{"name":"pvals"},"transform":[{"filter":"datum.p==='D'"}],"mark":{"type":"text","align":"left","baseline":"middle","font":"Liberation Serif","fontWeight":"bold","fontSize":13,"color":"#111"},"encoding":{"text":{"field":"v"}}},
  {"data":{"name":"letters"},"transform":[{"filter":"datum.p==='D'"}],"mark":{"type":"text","align":"left","baseline":"middle","font":"Liberation Serif","fontSize":20,"color":"#111"},"encoding":{"text":{"field":"L"}}}
 ]}
]
}
